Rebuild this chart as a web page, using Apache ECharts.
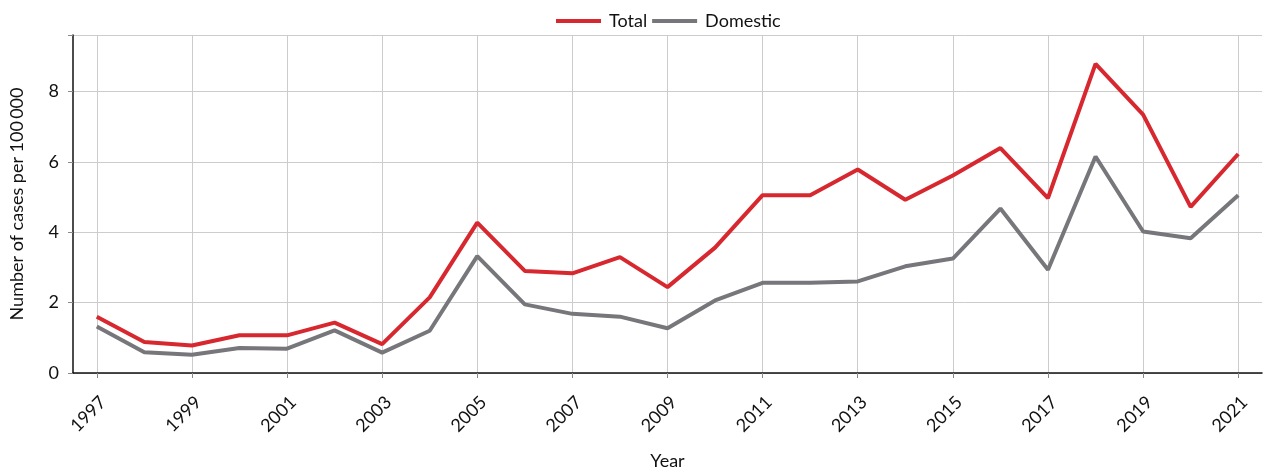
<!DOCTYPE html>
<html>
<head>
<meta charset="utf-8">
<script src="https://cdn.jsdelivr.net/npm/echarts@6/dist/echarts.min.js"></script>
<style>
html,body{margin:0;padding:0;background:#fff;}
#chart{width:1265px;height:472px;}
</style>
</head>
<body>
<div id="chart"></div>
<script>
const years = ['1997','1998','1999','2000','2001','2002','2003','2004','2005','2006','2007','2008','2009','2010','2011','2012','2013','2014','2015','2016','2017','2018','2019','2020','2021'];
const totalValues = [1.60,0.88,0.78,1.07,1.07,1.43,0.82,2.15,4.27,2.90,2.83,3.29,2.44,3.56,5.05,5.05,5.78,4.92,5.61,6.39,4.97,8.78,7.34,4.72,6.22];
const domesticValues = [1.32,0.59,0.52,0.71,0.69,1.21,0.58,1.20,3.32,1.95,1.68,1.60,1.27,2.06,2.56,2.56,2.60,3.03,3.25,4.67,2.93,6.15,4.02,3.83,5.05];
const yTicks = [0,2,4,6,8];

const FONT = 'Lato, "Open Sans", sans-serif';
const FS = 18;
const chart = echarts.init(document.getElementById('chart'), null, {renderer:'canvas'});
chart.setOption({
  animation:false,
  textStyle:{fontFamily:FONT},
  color:['#d7282f','#77777b'],
  legend:{
    top:7, left:551,
    icon:'rect', itemWidth:45, itemHeight:4, itemGap:5,
    textStyle:{fontSize:FS, color:'#111', fontFamily:FONT, padding:[0,0,0,3]},
    data:['Total','Domestic']
  },
  grid:{left:73, right:3, top:35, bottom:99, containLabel:false, outerBoundsMode:'none'},
  xAxis:{
    type:'category', data:years, boundaryGap:true,
    name:'Year', nameLocation:'middle', nameGap:79,
    nameTextStyle:{fontSize:FS, color:'#111', fontFamily:FONT},
    axisLine:{lineStyle:{color:'#111', width:1.5}},
    axisTick:{show:true, alignWithLabel:true, interval:1, length:5, lineStyle:{color:'#888'}},
    axisLabel:{interval:1, rotate:45, fontSize:FS, color:'#111', margin:20, fontFamily:FONT,
      align:'right', verticalAlign:'top'},
    splitLine:{show:true, alignWithLabel:true, interval:1, lineStyle:{color:'#cccccc', width:1}}
  },
  yAxis:{
    type:'value', min:0, max:9.6, interval:2,
    name:'Number of cases per 100\u2009000', nameLocation:'middle', nameGap:47,
    nameTextStyle:{fontSize:FS, color:'#111', fontFamily:FONT},
    axisLine:{show:true, lineStyle:{color:'#111', width:1.5}},
    axisTick:{show:true, length:5, lineStyle:{color:'#888'}},
    axisLabel:{fontSize:FS, color:'#111', margin:14, fontFamily:FONT,
      formatter:function(v){ return yTicks.indexOf(v) >= 0 ? String(v) : ''; }},
    splitLine:{show:true, lineStyle:{color:'#cccccc', width:1}}
  },
  series:[
    {name:'Total', type:'line', data:totalValues, symbol:'none', lineStyle:{width:4, color:'#d7282f'}, itemStyle:{color:'#d7282f'}, z:3},
    {name:'Domestic', type:'line', data:domesticValues, symbol:'none', lineStyle:{width:4, color:'#77777b'}, itemStyle:{color:'#77777b'}, z:2}
  ]
});
</script>
</body>
</html>
